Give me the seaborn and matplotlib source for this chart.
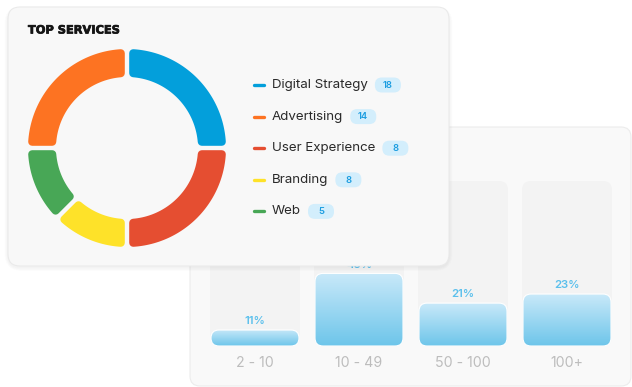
import numpy as np
import matplotlib
matplotlib.use("Agg")
import matplotlib.pyplot as plt
import matplotlib.patheffects as pe
import seaborn as sns
import pandas as pd
from matplotlib.patches import FancyBboxPatch, Polygon
from matplotlib.colors import LinearSegmentedColormap

# ---------------- data ----------------
services = ["Digital Strategy", "Advertising", "User Experience", "Branding", "Web"]
service_counts = [18, 14, 8, 8, 5]
service_colors = ["#039fdb", "#fd7322", "#e54e31", "#fee229", "#48a756"]
# ring as drawn, clockwise from 12 o'clock
donut_order = ["Digital Strategy", "User Experience", "Branding", "Web", "Advertising"]
donut_share = [25, 25, 12.5, 12.5, 25]

size_groups = ["2 - 10", "10 - 49", "50 - 100", "100+"]
size_pct = [11, 45, 21, 23]
size_fill = [9.7, 44, 26, 31.5]   # fill level of each column as drawn (% of column)
column_max = [100, 100, 100, 100]

# ---------------- setup ----------------
sns.set_theme(style="white")
plt.rcParams["font.family"] = ["Inter", "DejaVu Sans"]

W, H = 632, 387
fig = plt.figure(figsize=(W / 100, H / 100), dpi=100)
fig.patch.set_facecolor("white")

def px_axes(z):
    ax = fig.add_axes([0, 0, 1, 1], zorder=z)
    ax.set_xlim(0, W)
    ax.set_ylim(H, 0)
    ax.axis("off")
    ax.patch.set_alpha(0)
    return ax

# back card
ax0 = px_axes(0)
ax0.add_patch(FancyBboxPatch((190, 127), 441, 259,
                             boxstyle="round,pad=0,rounding_size=10",
                             fc="#f9f9f9", ec="#ececec", lw=0.8))

# ---------------- bar chart (seaborn) ----------------
bx0, bx1 = 203, 619
by_top, by_bot = 181, 346
axb = fig.add_axes([bx0 / W, 1 - by_bot / H, (bx1 - bx0) / W, (by_bot - by_top) / H], zorder=1)
axb.patch.set_alpha(0)
df = pd.DataFrame({"group": size_groups, "fill": size_fill, "full": column_max, "pct": size_pct})
sns.barplot(data=df, x="group", y="full", color="#f3f3f3", width=90 / 104,
            saturation=1, ax=axb, errorbar=None)
sns.barplot(data=df, x="group", y="fill", color="#8fd3f0", width=88 / 104,
            saturation=1, ax=axb, errorbar=None)
axb.set_xlim(-0.5, 3.5)
axb.set_ylim(0, 100)
sns.despine(ax=axb, left=True, bottom=True)
axb.set_yticks([])
axb.set_xlabel("")
axb.set_ylabel("")
axb.tick_params(axis="x", length=0, pad=7, labelsize=10.2, labelcolor="#bdbdbd")

ma = (100 / (by_bot - by_top)) / (1 / 104)
grad_cmap = LinearSegmentedColormap.from_list("g", ["#6dc5ea", "#c9e9f9"])
grad = np.linspace(0, 1, 256).reshape(-1, 1)

for p in axb.containers[0]:
    x, y, w, h = p.get_x(), p.get_y(), p.get_width(), p.get_height()
    p.set_visible(False)
    axb.add_patch(FancyBboxPatch((x, y), w, h, boxstyle=f"round,pad=0,rounding_size={9/104}",
                                 mutation_aspect=ma, fc="#f3f3f3", ec="none", zorder=1))
for i, p in enumerate(axb.containers[1]):
    x, y, w, h = p.get_x(), p.get_y(), p.get_width(), p.get_height()
    p.set_visible(False)
    rr = FancyBboxPatch((x, y), w, h, boxstyle=f"round,pad=0,rounding_size={8/104}",
                        mutation_aspect=ma, fc="none", ec="#ffffff", lw=0.8, zorder=3)
    axb.add_patch(rr)
    im = axb.imshow(grad, extent=(x, x + w, y, y + h), origin="lower", aspect="auto",
                    cmap=grad_cmap, zorder=2, interpolation="bilinear")
    im.set_clip_path(rr)
    axb.text(x + w / 2, y + h + 5.3, f"{df['pct'][i]}%", ha="center", va="center",
             fontsize=8.2, fontweight="semibold", color="#5cc0ec", zorder=4)
axb.set_xlim(-0.5, 3.5)
axb.set_ylim(0, 100)

# ---------------- front card ----------------
ax2 = px_axes(2)
cx0, cy0, cw, ch = 8, 7, 441, 259
for k in range(1, 7):
    ax2.add_patch(FancyBboxPatch((cx0 - k * 0.6, cy0 - k * 0.4 + 1.5), cw + k * 1.2, ch + k * 1.0,
                                 boxstyle=f"round,pad=0,rounding_size={12 + k}",
                                 fc="black", ec="none", alpha=0.006))
ax2.add_patch(FancyBboxPatch((cx0, cy0), cw, ch, boxstyle="round,pad=0,rounding_size=12",
                             fc="#f8f8f8", ec="#e9e9e9", lw=0.7))

ax2.text(28, 30.5, "TOP SERVICES", fontsize=8.2, fontweight="bold", color="#151515",
         va="center", ha="left", family=["DejaVu Sans"],
         path_effects=[pe.withStroke(linewidth=0.5, foreground="#151515")])

# donut
ccx, ccy = 127, 148
R_out, R_in = 99, 71
stroke = 8.0   # px, gives the rounded corners
half_gap = 2.2
Ro, Ri = R_out - stroke / 2, R_in + stroke / 2
g = half_gap + stroke / 2
color_of = dict(zip(services, service_colors))
start = -90.0
for name, share in zip(donut_order, donut_share):
    a1 = start
    a2 = start + share * 3.6
    start = a2
    o1 = np.radians(a1) + np.arcsin(g / Ro)
    o2 = np.radians(a2) - np.arcsin(g / Ro)
    i1 = np.radians(a1) + np.arcsin(g / Ri)
    i2 = np.radians(a2) - np.arcsin(g / Ri)
    to = np.linspace(o1, o2, 80)
    ti = np.linspace(i2, i1, 80)
    pts = np.vstack([np.column_stack([ccx + Ro * np.cos(to), ccy + Ro * np.sin(to)]),
                     np.column_stack([ccx + Ri * np.cos(ti), ccy + Ri * np.sin(ti)])])
    ax2.add_patch(Polygon(pts, closed=True, fc=color_of[name], ec=color_of[name],
                          lw=stroke * 0.72, joinstyle="round"))

# legend
fig.canvas.draw()
rend = fig.canvas.get_renderer()
inv = ax2.transData.inverted()
for i, (name, cnt, col) in enumerate(zip(services, service_counts, service_colors)):
    y = 85 + i * 31.6
    ax2.plot([254, 264], [y, y], color=col, lw=2.4, solid_capstyle="round")
    t = ax2.text(272, y, name, fontsize=9.6, color="#2a2a2a", va="center", ha="left")
    bb = t.get_window_extent(renderer=rend)
    xr = inv.transform((bb.x1, bb.y0))[0]
    bxl = xr + 7
    bw, bh = 26, 15
    ax2.add_patch(FancyBboxPatch((bxl, y - bh / 2), bw, bh,
                                 boxstyle="round,pad=0,rounding_size=7",
                                 fc="#d3eefc", ec="none"))
    ax2.text(bxl + bw / 2, y + 0.3, str(cnt), fontsize=6.8, fontweight="semibold",
             color="#1c9de0", ha="center", va="center")

fig.savefig("out.png", dpi=100, facecolor="white")
